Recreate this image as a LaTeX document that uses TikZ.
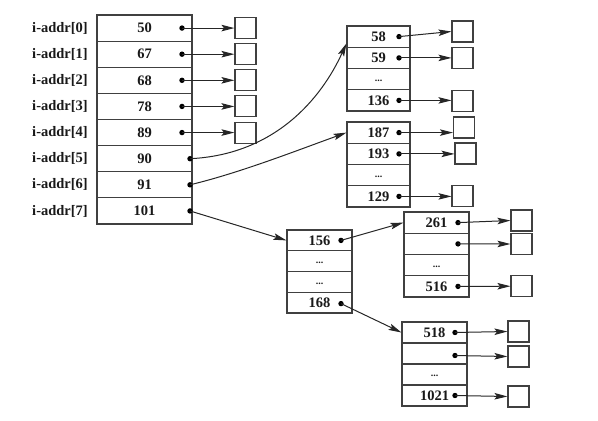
\documentclass[tikz,border=0pt]{standalone}
\usepackage{fontspec}
\setmainfont{Liberation Serif}
\usetikzlibrary{arrows.meta}
\tikzset{
  cell/.style={draw=black!75, line width=1.1pt, rectangle, inner sep=0pt, text=black!90,
    font=\bfseries\fontsize{14.5}{16}\selectfont},
  sbox/.style={draw=black!75, line width=1.1pt, rectangle, minimum width=21pt, minimum height=21pt, inner sep=0pt},
  pdot/.style={circle, fill=black, inner sep=0pt, minimum size=5.4pt},
  ptr/.style={line width=1pt, draw=black!85, -{Stealth[length=13pt,width=6.5pt,inset=2.5pt]}},
  lab/.style={anchor=east, inner sep=0pt, text=black!90, font=\bfseries\fontsize{14.5}{16}\selectfont},
  mcell/.style={cell, minimum width=95pt, minimum height=26.125pt},
  acell/.style={cell, minimum width=63pt, minimum height=21.25pt},
  ccell/.style={cell, minimum width=65pt, minimum height=20.75pt},
  dcell/.style={cell, minimum width=65pt, minimum height=21.25pt},
  ecell/.style={cell, minimum width=65pt, minimum height=21pt},
}
\newcommand{\myell}{{\fontsize{10}{12}\selectfont\vphantom{x}...}}
\begin{document}
\begin{tikzpicture}[x=1pt,y=-1pt]
\useasboundingbox (0,0) rectangle (598,421);
% main table
\foreach \k/\v/\y in {0/50/28.06,1/67/54.19,2/68/80.31,3/78/106.44,4/89/132.56,5/90/158.69,6/91/184.81,7/101/210.94}{
  \node[mcell] (m\k) at (144.5,\y) {\v};
  \node[lab] (l\k) at (88,\y) {i-addr[\k]};
}
\foreach \k/\y in {0/28.06,1/54.19,2/80.31,3/106.44,4/132.56}{
  \node[pdot] (p\k) at (182,\y) {};
  \node[sbox] (b\k) at (245.5,\y) {};
  \draw[ptr] (p\k.center) -- (b\k.west);
}
\foreach \k/\y in {5/158.69,6/184.81,7/210.94}{
  \node[pdot] (p\k) at (190,\y) {};
}
% group A
\node[acell] (A0) at (378.5,36.6) {58};
\node[acell] (A1) at (378.5,57.9) {59};
\node[acell] (A2) at (378.5,79.1) {\myell};
\node[acell] (A3) at (378.5,100.4) {136};
\node[pdot] (pA0) at (399,36.6) {};
\node[pdot] (pA1) at (399,57.9) {};
\node[pdot] (pA3) at (399,100.4) {};
\node[sbox] (bA0) at (462.5,31.5) {};
\node[sbox] (bA1) at (462.5,58) {};
\node[sbox] (bA3) at (462.5,101) {};
\draw[ptr] (pA0.center) -- (bA0.west);
\draw[ptr] (pA1.center) -- (pA1.center -| bA1.west);
\draw[ptr] (pA3.center) -- (pA3.center -| bA3.west);
% group B
\node[acell] (B0) at (378.5,132.6) {187};
\node[acell] (B1) at (378.5,153.9) {193};
\node[acell] (B2) at (378.5,175.1) {\myell};
\node[acell] (B3) at (378.5,196.4) {129};
\node[pdot] (pB0) at (399,132.6) {};
\node[pdot] (pB1) at (399,153.9) {};
\node[pdot] (pB3) at (399,196.4) {};
\node[sbox] (bB0) at (464,127.5) {};
\node[sbox] (bB1) at (465.5,153.5) {};
\node[sbox] (bB3) at (462.5,196) {};
\draw[ptr] (pB0.center) -- (pB0.center -| bB0.west);
\draw[ptr] (pB1.center) -- (pB1.center -| bB1.west);
\draw[ptr] (pB3.center) -- (pB3.center -| bB3.west);
% group C
\node[ccell] (C0) at (319.5,240.4) {156};
\node[ccell] (C1) at (319.5,261.1) {\myell};
\node[ccell] (C2) at (319.5,281.9) {\myell};
\node[ccell] (C3) at (319.5,302.6) {168};
\node[pdot] (pC0) at (341,240.4) {};
\node[pdot] (pC3) at (341,303.6) {};
% group D
\node[dcell] (D0) at (436.5,222.6) {261};
\node[dcell] (D1) at (436.5,243.9) {};
\node[dcell] (D2) at (436.5,265.1) {\myell};
\node[dcell] (D3) at (436.5,286.4) {516};
\node[pdot] (pD0) at (458,222.6) {};
\node[pdot] (pD1) at (458,243.9) {};
\node[pdot] (pD3) at (458,286.4) {};
\node[sbox] (bD0) at (521.5,220.5) {};
\node[sbox] (bD1) at (521.5,244) {};
\node[sbox] (bD3) at (521.5,286.2) {};
\draw[ptr] (pD0.center) -- (bD0.west);
\draw[ptr] (pD1.center) -- (bD1.west);
\draw[ptr] (pD3.center) -- (bD3.west);
% group E
\node[ecell] (E0) at (434.5,332.5) {518};
\node[ecell] (E1) at (434.5,353.5) {};
\node[ecell] (E2) at (434.5,374.5) {\myell};
\node[ecell] (E3) at (434.5,395.5) {1021};
\node[pdot] (pE0) at (455,332.5) {};
\node[pdot] (pE1) at (455,355.5) {};
\node[pdot] (pE3) at (455,395.5) {};
\node[sbox] (bE0) at (518.5,331.5) {};
\node[sbox] (bE1) at (518.5,356.5) {};
\node[sbox] (bE3) at (518.5,396.5) {};
\draw[ptr] (pE0.center) -- (bE0.west);
\draw[ptr] (pE1.center) -- (bE1.west);
\draw[ptr] (pE3.center) -- (bE3.west);
% long pointers
\draw[ptr] (p5.center) .. controls +(85,-4) and +(-25,55) .. (A0.192);
\draw[ptr] (p6.center) .. controls +(50,-12) and +(-50,18) .. (B0.west);
\draw[ptr] (p7.center) -- (C0.west);
\draw[ptr] (pC0.center) -- (D0.west);
\draw[ptr] (pC3.center) -- (E0.west);
\end{tikzpicture}
\end{document}
